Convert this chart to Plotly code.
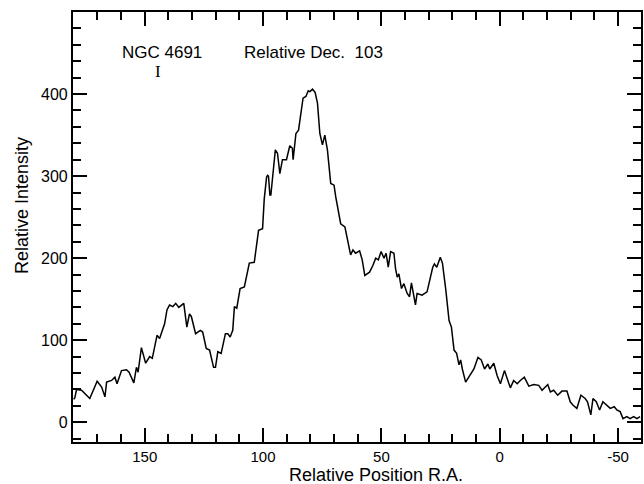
import plotly.graph_objects as go

# Relative position R.A. (x) and relative intensity (y)
ra = [180.0, 179.5, 178.8, 176.7, 173.2, 170.1, 168.2, 166.8, 166.1, 164.0, 162.6, 161.7,
      159.8, 157.7, 156.6, 154.6, 153.5, 152.8, 151.4, 149.6, 147.9, 146.8, 144.8, 143.7,
      141.6, 140.6, 139.5, 138.1, 136.9, 135.6, 133.5, 132.2, 131.1, 130.3, 128.5, 126.5,
      125.5, 124.0, 122.6, 120.9, 120.1, 119.1, 117.7, 115.9, 114.9, 113.9, 112.8, 112.1,
      111.1, 109.7, 107.9, 105.8, 103.7, 101.9, 100.2, 99.5, 98.5, 98.1, 97.7, 97.1,
      96.7, 95.7, 94.8, 93.9, 92.9, 91.8, 90.1, 88.7, 87.6, 87.3, 86.1, 85.0,
      83.1, 81.9, 80.9, 80.2, 79.1, 78.0, 77.0, 76.0, 74.9, 73.9, 72.8, 71.4,
      70.0, 69.3, 68.6, 67.2, 65.4, 63.7, 63.0, 62.0, 60.9, 59.2, 58.1, 57.0,
      55.0, 53.6, 52.4, 51.3, 50.1, 48.9, 48.0, 47.1, 46.1, 44.7, 44.0, 43.3,
      42.6, 41.5, 40.5, 39.1, 38.1, 37.3, 36.3, 35.6, 34.9, 32.8, 30.7, 29.3,
      28.3, 27.6, 26.6, 25.1, 24.2, 22.8, 21.4, 20.4, 19.3, 18.2, 17.2, 16.5,
      15.8, 14.4, 13.0, 10.9, 9.2, 7.8, 6.4, 5.0, 4.2, 2.5, 1.1, -0.3,
      -2.0, -3.1, -4.5, -5.9, -7.4, -8.7, -10.4, -12.3, -14.4, -16.5, -17.9, -20.3,
      -21.4, -22.8, -24.5, -26.3, -28.4, -29.8, -30.9, -32.6, -34.3, -36.1, -37.1, -38.5,
      -39.4, -40.8, -42.2, -43.6, -45.3, -46.7, -48.4, -49.5, -50.9, -52.1, -53.7, -55.1,
      -56.6, -58.0, -59.3]
intensity = [28, 30, 40, 39, 29, 50, 43, 31, 49, 51, 55, 47,
             63, 64, 61, 48, 67, 61, 91, 72, 80, 78, 106, 102,
             120, 137, 143, 141, 145, 140, 145, 116, 132, 129, 108, 112,
             110, 90, 88, 67, 67, 86, 84, 108, 108, 104, 112, 141,
             139, 163, 165, 194, 195, 234, 236, 272, 299, 301, 300, 277,
             277, 311, 332, 328, 303, 320, 320, 337, 334, 320, 352, 356,
             395, 397, 404, 403, 406, 402, 389, 352, 338, 350, 332, 291,
             289, 275, 262, 242, 238, 216, 204, 210, 206, 209, 198, 179,
             183, 191, 200, 198, 208, 200, 206, 189, 208, 206, 187, 177,
             181, 163, 169, 157, 153, 170, 153, 143, 157, 155, 159, 177,
             189, 193, 189, 201, 194, 162, 124, 116, 88, 84, 70, 76,
             65, 49, 55, 65, 79, 76, 65, 71, 65, 72, 57, 47,
             63, 53, 42, 51, 47, 51, 55, 44, 46, 45, 39, 46,
             37, 39, 33, 38, 38, 25, 21, 17, 33, 29, 25, 9,
             29, 25, 15, 25, 21, 17, 19, 15, 13, 4.5, 7, 4.5,
             7, 4.5, 7]

x_ticks = [150, 100, 50, 0, -50]
y_ticks = [0, 100, 200, 300, 400]

FONT = "Liberation Sans, Arial"

fig = go.Figure()
fig.add_trace(go.Scatter(x=ra, y=intensity, mode="lines",
                         line=dict(color="black", width=1.5), showlegend=False))

axis_common = dict(
    showline=True, linecolor="black", linewidth=2.2, mirror="ticks",
    ticks="inside", tickcolor="black", tickwidth=2, ticklen=14,
    showgrid=False, zeroline=False,
)

fig.update_xaxes(
    range=[180.3, -59.7], tickvals=x_ticks, ticktext=[str(v) for v in x_ticks],
    tickfont=dict(family=FONT, size=15, color="black"),
    minor=dict(dtick=10, tick0=0, ticks="inside", ticklen=8, tickwidth=2, tickcolor="black", showgrid=False),
    **axis_common)
fig.update_yaxes(
    range=[-24, 500], tickvals=y_ticks, ticktext=[str(v) for v in y_ticks],
    tickfont=dict(family=FONT, size=16, color="black"),
    minor=dict(dtick=20, tick0=0, ticks="inside", ticklen=8, tickwidth=2, tickcolor="black", showgrid=False),
    **axis_common)

# axis titles (placed as in the original figure)
fig.add_annotation(xref="paper", yref="paper", x=0.533, y=-0.077, yanchor="middle",
                   text="Relative Position R.A.", showarrow=False,
                   font=dict(family=FONT, size=18, color="black"))
fig.add_annotation(xref="paper", yref="paper", x=-0.0895, y=0.549, xanchor="center",
                   textangle=-90, text="Relative Intensity", showarrow=False,
                   font=dict(family=FONT, size=18, color="black"))

fig.add_annotation(x=142.8, y=451, text="NGC 4691", showarrow=False,
                   font=dict(family=FONT, size=17, color="black"))
fig.add_annotation(x=144.5, y=427, text="I", showarrow=False,
                   font=dict(family="Liberation Serif, DejaVu Serif", size=17, color="black"))
fig.add_annotation(x=78.8, y=451, text="Relative Dec.  103", showarrow=False,
                   font=dict(family=FONT, size=17, color="black"))

fig.update_layout(
    width=644, height=484,
    margin=dict(l=73, r=1, t=12, b=42),
    paper_bgcolor="white", plot_bgcolor="white",
)

fig.write_html("out.html")
